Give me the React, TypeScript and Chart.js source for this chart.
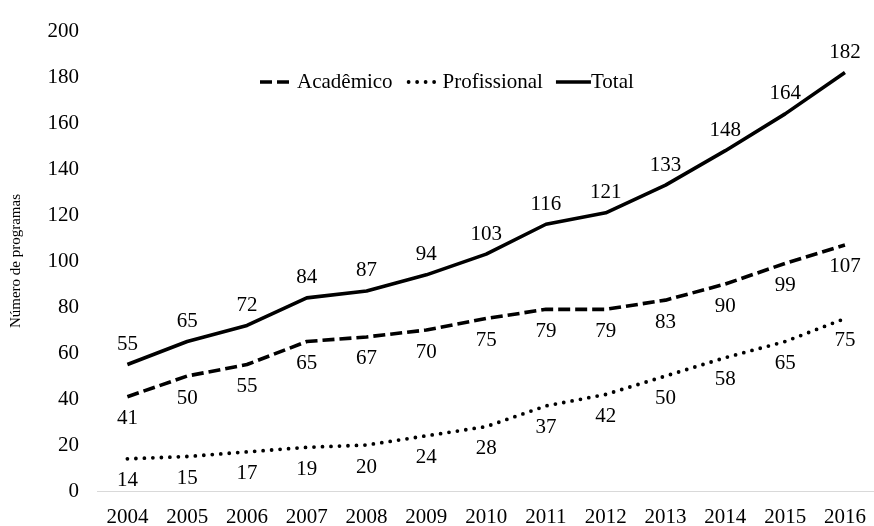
import React, { useEffect, useRef } from "react";
import { Chart, registerables } from "chart.js";

Chart.register(...registerables);

const YEARS = ["2004", "2005", "2006", "2007", "2008", "2009", "2010", "2011", "2012", "2013", "2014", "2015", "2016"];
const ACADEMICO = [41, 50, 55, 65, 67, 70, 75, 79, 79, 83, 90, 99, 107];
const PROFISSIONAL = [14, 15, 17, 19, 20, 24, 28, 37, 42, 50, 58, 65, 75];
const TOTAL = [55, 65, 72, 84, 87, 94, 103, 116, 121, 133, 148, 164, 182];
const SERIES_NAMES = ["Acadêmico", "Profissional", "Total"];
const Y_TITLE = "Número de programas";

const FONT = '"Liberation Serif", "Times New Roman", serif';
const FS = 21;

const DASHES: number[][] = [[12, 5], [0, 8.5], []];
const CAPS: CanvasLineCap[] = ["butt", "round", "butt"];
const LABEL_OFF = [22, 22, -20];

const valueLabels = {
  id: "valueLabels",
  afterDatasetsDraw(chart: any) {
    const ctx = chart.ctx;
    ctx.save();
    ctx.font = `${FS}px ${FONT}`;
    ctx.fillStyle = "#000";
    ctx.textAlign = "center";
    ctx.textBaseline = "middle";
    chart.data.datasets.forEach((ds: any, i: number) => {
      const meta = chart.getDatasetMeta(i);
      meta.data.forEach((pt: any, j: number) => {
        ctx.fillText(String(ds.data[j]), pt.x, pt.y + LABEL_OFF[i]);
      });
    });
    ctx.restore();
  },
};

const customLegend = {
  id: "customLegend",
  afterDraw(chart: any) {
    const ctx = chart.ctx;
    const ca = chart.chartArea;
    ctx.save();
    ctx.font = `${FS}px ${FONT}`;
    ctx.fillStyle = "#000";
    ctx.textAlign = "left";
    ctx.textBaseline = "middle";
    const y = 82;
    let x = ca.left + 162.5;
    const sampleW = [31, 35, 35];
    const gapAfterSample = [6, 1, 0];
    const gapAfterText = [14, 13, 0];
    chart.data.datasets.forEach((ds: any, i: number) => {
      ctx.save();
      ctx.strokeStyle = "#000";
      ctx.lineWidth = ds.borderWidth;
      ctx.lineCap = CAPS[i];
      ctx.setLineDash(DASHES[i]);
      ctx.beginPath();
      const x0 = i === 1 ? x + 2 : x;
      ctx.moveTo(x0, y);
      ctx.lineTo(x + sampleW[i], y);
      ctx.stroke();
      ctx.restore();
      x += sampleW[i] + gapAfterSample[i];
      ctx.fillText(ds.label, x, y);
      x += ctx.measureText(ds.label).width + gapAfterText[i];
    });
    ctx.restore();
  },
};

export default function App() {
  const ref = useRef<HTMLCanvasElement | null>(null);
  useEffect(() => {
    if (!ref.current) return;
    const series = [ACADEMICO, PROFISSIONAL, TOTAL];
    const chart = new Chart(ref.current, {
      type: "line",
      data: {
        labels: YEARS,
        datasets: series.map((d, i) => ({
          label: SERIES_NAMES[i],
          data: d,
          borderColor: "#000",
          backgroundColor: "#000",
          borderWidth: i === 1 ? 3.8 : 3.6,
          borderDash: DASHES[i],
          borderCapStyle: CAPS[i],
          borderJoinStyle: "round",
          pointRadius: 0,
          pointHoverRadius: 0,
          tension: 0,
          fill: false,
        })),
      },
      options: {
        responsive: false,
        animation: false,
        devicePixelRatio: 1,
        layout: { padding: { top: 23, right: 1.5, left: 0, bottom: 0 } },
        plugins: {
          legend: { display: false },
          tooltip: { enabled: false },
        },
        scales: {
          x: {
            offset: true,
            grid: { display: false, drawTicks: false },
            border: { display: true, color: "#d9d9d9", width: 1 },
            ticks: {
              color: "#000",
              font: { family: FONT, size: FS },
              padding: 14,
              maxRotation: 0,
              autoSkip: false,
            },
            afterFit: (s: any) => {
              s.height = 35;
            },
          },
          y: {
            min: 0,
            max: 200,
            grid: { display: false, drawTicks: false },
            border: { display: false },
            ticks: {
              stepSize: 20,
              color: "#000",
              font: { family: FONT, size: FS },
              padding: 18.5,
            },
            title: {
              display: true,
              text: Y_TITLE,
              color: "#000",
              font: { family: FONT, size: 15 },
              padding: { top: 7, bottom: 0 },
            },
            afterFit: (s: any) => {
              s.width = 97.5;
            },
          },
        },
      },
      plugins: [valueLabels, customLegend],
    });
    return () => chart.destroy();
  }, []);
  return (
    <div
      style={{
        position: "fixed",
        left: 0,
        top: 0,
        width: 874,
        height: 526,
        overflow: "hidden",
        background: "#fff",
      }}
    >
      <canvas ref={ref} width={880} height={526} style={{ display: "block" }} />
    </div>
  );
}
